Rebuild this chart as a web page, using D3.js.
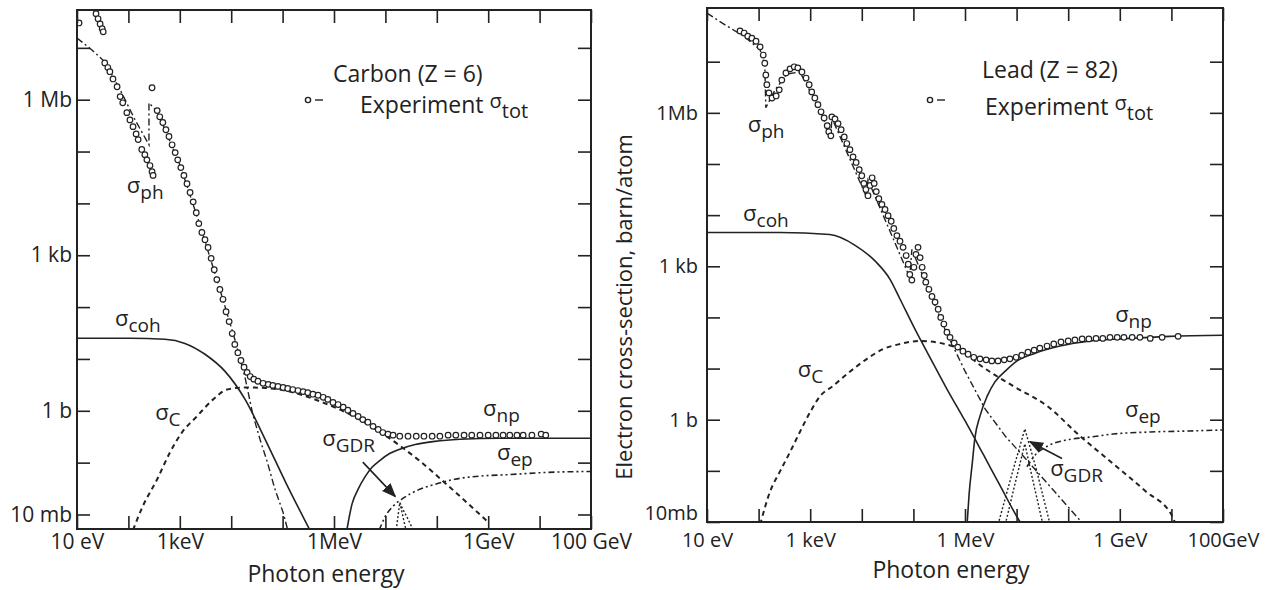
<!DOCTYPE html>
<html>
<head>
<meta charset="utf-8">
<script src="https://cdnjs.cloudflare.com/ajax/libs/d3/7.8.5/d3.min.js"></script>
<style>
  body { margin: 0; background: #fff; }
  svg text { font-family: "Open Sans", sans-serif; fill: #222; }
</style>
</head>
<body>
<svg id="chart" width="1280" height="590"></svg>
<script>
// all values are decade exponents: [log10(E / eV), log10(sigma / barn)]

// ---- Carbon (Z = 6) ----
const carbonTot = [
  [1.04,7.48],[1.37,7.66],[1.41,7.56],[1.45,7.46],[1.49,7.37],[1.51,7.31],
  [1.54,6.71],[1.60,6.62],[1.64,6.54],[1.70,6.40],[1.78,6.25],[1.84,6.06],[1.89,5.94],[1.97,5.75],[2.03,5.61],
  [2.09,5.48],[2.15,5.34],[2.19,5.23],[2.26,5.04],[2.32,4.94],[2.36,4.84],[2.42,4.73],[2.46,4.61],[2.48,4.54],
  [2.46,6.23],[2.56,5.79],[2.61,5.67],[2.67,5.56],[2.73,5.42],[2.79,5.29],[2.85,5.13],[2.91,4.98],[2.96,4.84],
  [3.02,4.69],[3.08,4.54],[3.14,4.38],[3.20,4.21],[3.26,4.03],[3.32,3.82],[3.37,3.61],[3.43,3.44],[3.49,3.30],
  [3.55,3.15],[3.61,2.94],[3.67,2.72],[3.72,2.53],[3.78,2.34],[3.84,2.15],[3.90,1.91],[3.96,1.72],[4.02,1.49],
  [4.07,1.28],[4.13,1.12],[4.19,0.97],[4.25,0.84],[4.31,0.74],[4.37,0.66],
  [4.44,0.61],[4.52,0.57],[4.62,0.53],[4.72,0.51],[4.81,0.49],[4.91,0.47],[5.01,0.45],[5.10,0.43],[5.20,0.41],
  [5.30,0.39],[5.40,0.37],[5.49,0.35],[5.59,0.32],[5.69,0.30],[5.79,0.26],[5.88,0.22],[5.98,0.16],[6.08,0.12],
  [6.18,0.07],[6.27,0.01],[6.37,-0.05],[6.47,-0.11],[6.56,-0.17],[6.66,-0.22],[6.76,-0.30],[6.86,-0.36],
  [6.95,-0.42],[7.05,-0.45],[7.15,-0.47],[7.28,-0.49],[7.44,-0.49],[7.60,-0.49],[7.75,-0.49],[7.91,-0.49],
  [8.06,-0.49],[8.22,-0.47],[8.37,-0.47],[8.53,-0.47],[8.68,-0.47],[8.84,-0.47],[9.00,-0.47],[9.15,-0.47],
  [9.29,-0.47],[9.42,-0.47],[9.56,-0.47],[9.68,-0.47],[9.85,-0.47],[10.03,-0.45],[10.12,-0.47]
];
const carbonCoh = [[1.00,1.40],[2.03,1.40],[2.71,1.38],[3.10,1.30],[3.49,1.09],[3.88,0.76],[4.27,0.22],[4.66,-0.55],[5.05,-1.36],[5.53,-2.30]];
const carbonCompton = [[2.09,-2.30],[2.28,-1.84],[2.56,-1.32],[2.81,-0.80],[3.04,-0.42],[3.33,-0.11],[3.65,0.22],[3.92,0.41],
  [4.27,0.45],[4.66,0.44],[5.14,0.37],[5.73,0.18],[6.31,-0.07],[6.99,-0.47],[7.67,-0.97],[8.26,-1.48],[8.98,-2.13]];
const carbonPhoto = [[1.00,7.19],[1.29,6.96],[1.54,6.73],[1.84,6.19],[2.13,5.61],[2.40,5.13],[2.40,5.94],[2.56,5.77],[3.00,4.75],
  [3.39,3.59],[3.78,2.34],[4.07,1.38],[4.27,0.64],[4.42,-0.07],[4.56,-0.55],[4.70,-0.98],[4.85,-1.51],[5.01,-1.96],[5.10,-2.30]];
const carbonPair = [[6.25,-2.30],[6.35,-1.80],[6.47,-1.51],[6.60,-1.28],[6.74,-1.09],[6.89,-0.96],[7.09,-0.82],[7.28,-0.74],
  [7.58,-0.65],[7.96,-0.59],[8.45,-0.55],[9.23,-0.53],[11.0,-0.53]];
const carbonPairElectron = [[6.88,-2.30],[6.99,-2.05],[7.15,-1.84],[7.34,-1.69],[7.63,-1.53],[7.96,-1.42],[8.35,-1.32],
  [8.84,-1.26],[9.42,-1.23],[10.1,-1.19],[11.0,-1.17]];
const carbonGdr = [[7.21,-2.30],[7.25,-2.00],[7.28,-1.77],[7.34,-1.90],[7.44,-2.09],[7.54,-2.30], null, [7.28,-1.77],[7.40,-2.30]];

// ---- Lead (Z = 82) ----
const leadTot = [
  [1.64,7.60],[1.72,7.56],[1.79,7.50],[1.87,7.46],[1.95,7.40],[2.03,7.29],[2.09,7.13],[2.12,6.97],
  [2.14,6.74],[2.16,6.55],[2.20,6.39],[2.26,6.29],[2.34,6.33],[2.40,6.45],[2.45,6.64],[2.53,6.78],[2.61,6.86],
  [2.69,6.90],[2.76,6.88],[2.84,6.80],[2.92,6.68],[2.98,6.55],[3.03,6.41],[3.09,6.29],[3.15,6.16],[3.21,6.02],
  [3.27,5.90],[3.33,5.75],[3.36,5.63],[3.40,5.55],
  [3.42,5.92],[3.48,5.88],[3.54,5.79],[3.60,5.67],[3.66,5.53],[3.71,5.40],[3.77,5.28],[3.83,5.14],[3.89,5.03],
  [3.95,4.89],[4.00,4.77],[4.04,4.62],[4.08,4.50],[4.12,4.38],[4.16,4.58],[4.20,4.73],[4.24,4.62],[4.28,4.46],
  [4.33,4.32],[4.39,4.21],[4.45,4.11],[4.51,3.99],[4.57,3.88],[4.62,3.74],[4.68,3.60],[4.74,3.49],[4.80,3.37],
  [4.86,3.21],[4.90,3.04],[4.93,2.84],[4.97,2.73],[5.01,2.98],[5.05,3.23],[5.09,3.37],[5.13,3.17],[5.17,2.98],
  [5.21,2.82],[5.24,2.69],
  [5.30,2.55],[5.36,2.41],[5.42,2.30],[5.48,2.16],[5.53,2.00],[5.59,1.87],[5.65,1.71],[5.71,1.61],[5.79,1.50],
  [5.86,1.42],[5.96,1.34],[6.06,1.28],[6.17,1.22],[6.29,1.19],[6.41,1.17],[6.52,1.15],[6.64,1.15],[6.76,1.17],
  [6.87,1.19],[6.99,1.22],[7.10,1.26],[7.22,1.32],[7.34,1.36],[7.45,1.40],[7.59,1.44],[7.72,1.48],[7.86,1.52],
  [8.00,1.54],[8.13,1.56],[8.27,1.58],[8.40,1.58],[8.54,1.59],[8.67,1.59],[8.81,1.61],[8.95,1.61],[9.08,1.61],
  [9.24,1.61],[9.39,1.61],[9.59,1.59],[9.82,1.61],[10.13,1.63]
];
const leadCoh = [[1.00,3.66],[2.41,3.66],[3.38,3.62],[3.87,3.41],[4.26,3.10],[4.55,2.74],[4.74,2.36],[5.03,1.77],[5.32,1.22],
  [5.65,0.60],[6.00,-0.02],[6.35,-0.67],[6.68,-1.29],[7.05,-1.97],[7.10,-2.05]];
const leadCompton = [[2.03,-2.05],[2.22,-1.41],[2.41,-1.02],[2.61,-0.63],[2.80,-0.24],[3.00,0.15],[3.19,0.46],[3.44,0.66],
  [3.71,0.89],[4.10,1.19],[4.41,1.38],[4.74,1.48],[5.13,1.54],[5.61,1.48],[5.90,1.38],[6.29,1.07],[6.93,0.66],[7.59,0.27],
  [8.23,-0.32],[8.87,-0.86],[9.49,-1.39],[10.03,-1.91],[10.08,-2.05]];
const leadPhoto = [[1.00,7.95],[1.35,7.72],[1.74,7.48],[2.03,7.23],[2.12,6.94],[2.14,6.10],[2.32,6.45],[2.55,6.76],[2.80,6.80],
  [3.09,6.25],[3.40,5.55],[3.42,5.90],[4.08,4.38],[4.12,4.69],[4.93,2.78],[4.97,3.33],[5.61,1.77],[6.00,0.95],[6.39,0.21],
  [6.78,-0.32],[7.26,-0.86],[7.74,-1.41],[8.23,-1.97],[8.27,-2.05]];
const leadPair = [[6.04,-2.05],[6.08,-1.45],[6.14,-0.86],[6.19,-0.37],[6.29,0.07],[6.43,0.46],[6.58,0.74],[6.78,0.95],
  [7.01,1.15],[7.36,1.30],[7.84,1.44],[8.42,1.54],[9.20,1.59],[9.97,1.63],[11.0,1.65]];
const leadPairElectron = [[7.20,-0.92],[7.36,-0.69],[7.61,-0.51],[8.00,-0.39],[8.42,-0.34],[8.87,-0.28],[9.59,-0.24],
  [10.36,-0.22],[11.0,-0.20]];
const leadGdr = [[6.64,-2.05],[6.91,-1.06],[7.16,-0.18],[7.38,-0.96],[7.65,-2.05], null,
  [6.78,-2.05],[6.97,-1.25],[7.16,-0.47],[7.30,-1.12],[7.51,-2.05]];

// ---- ticks ----
const energyTickExps = [1, 2, 3, 4, 5, 6, 7, 8, 9, 10, 11];
const carbonEnergyLabels = ["10 eV", "", "1keV", "", "", "1MeV", "", "", "1GeV", "", "100 GeV"];
const leadEnergyLabels = ["10 eV", "", "1 keV", "", "", "1 MeV", "", "", "1 GeV", "", "100GeV"];
const sigmaTickExps = [-2, -1, 0, 1, 2, 3, 4, 5, 6, 7];
const carbonSigmaLabels = ["10 mb", "", "1 b", "", "", "1 kb", "", "", "1 Mb", ""];
const leadSigmaLabels = ["10mb", "", "1 b", "", "", "1 kb", "", "", "1Mb", ""];

const lineStyles = {
  coh:   { dash: null,            width: 1.6 },
  comp:  { dash: "5,4",           width: 2 },
  photo: { dash: "7,3,2,3",       width: 1.4 },
  pair:  { dash: null,            width: 1.6 },
  ep:    { dash: "6,3,2,3,2,3",   width: 1.6 },
  gdr:   { dash: "2,2",           width: 1.4 }
};

const svg = d3.select("#chart");
const P = v => Math.pow(10, v);

svg.append("defs").append("marker")
  .attr("id", "arrow").attr("viewBox", "0 0 10 10").attr("refX", 9).attr("refY", 5)
  .attr("markerWidth", 9).attr("markerHeight", 9).attr("orient", "auto-start-reverse")
  .append("path").attr("d", "M0,1 L10,5 L0,9 z").attr("fill", "#222");

function sigmaLabel(g, px, py, sub, size) {
  const t = g.append("text").attr("x", px).attr("y", py).style("font-size", size + "px").text("σ");
  t.append("tspan").attr("dy", 6).style("font-size", (size - 3) + "px").text(sub);
}

function drawPanel(p) {
  const x = d3.scaleLog().domain(p.xDom.map(P)).range([p.left, p.right]);
  const y = d3.scaleLog().domain(p.yDom.map(P)).range([p.bottom, p.top]);
  const g = svg.append("g");

  svg.select("defs").append("clipPath").attr("id", "clip-" + p.id).append("rect")
    .attr("x", p.left).attr("y", p.top).attr("width", p.right - p.left).attr("height", p.bottom - p.top);
  const plot = g.append("g").attr("clip-path", "url(#clip-" + p.id + ")");

  p.series.forEach(s => {
    const st = lineStyles[s.type];
    const line = d3.line().defined(d => d)
      .x(d => x(P(d[0]))).y(d => y(P(d[1])))
      .curve(s.smooth ? d3.curveMonotoneX : d3.curveLinear);
    plot.append("path").attr("d", line(s.data))
      .attr("fill", "none").attr("stroke", "#222")
      .attr("stroke-width", st.width)
      .attr("stroke-dasharray", st.dash);
  });

  plot.selectAll("circle.exp").data(p.tot).enter().append("circle")
    .attr("class", "exp")
    .attr("cx", d => x(P(d[0]))).attr("cy", d => y(P(d[1])))
    .attr("r", 2.8).attr("fill", "#fff").attr("stroke", "#222").attr("stroke-width", 1.2);

  // axes: ticks point inward, labels only left and bottom
  const xLab = {}; energyTickExps.forEach((e, i) => xLab[e] = p.xLabels[i]);
  const yLab = {}; sigmaTickExps.forEach((e, i) => yLab[e] = p.yLabels[i]);
  const xVals = energyTickExps.map(P);
  const yVals = sigmaTickExps.filter(e => e >= p.yDom[0] && e <= p.yDom[1]).map(P);
  const fx = v => xLab[Math.round(Math.log10(v))] || "";
  const fy = v => yLab[Math.round(Math.log10(v))] || "";

  const xAxis = g.append("g").attr("transform", "translate(0," + p.bottom + ")")
    .call(d3.axisBottom(x).tickValues(xVals).tickSize(-13).tickPadding(p.xPad).tickFormat(fx));
  const yAxis = g.append("g").attr("transform", "translate(" + p.left + ",0)")
    .call(d3.axisLeft(y).tickValues(yVals).tickSize(-13).tickPadding(p.yPad).tickFormat(fy));
  const axes = [
    xAxis, yAxis,
    g.append("g").attr("transform", "translate(0," + p.top + ")")
      .call(d3.axisTop(x).tickValues(xVals).tickSize(-13).tickFormat("")),
    g.append("g").attr("transform", "translate(" + p.right + ",0)")
      .call(d3.axisRight(y).tickValues(yVals).tickSize(-13).tickFormat(""))
  ];
  axes.forEach(a => {
    a.select(".domain").remove();
    a.selectAll("line").attr("stroke", "#222").attr("stroke-width", 1.6);
    a.selectAll("text").attr("font-family", null).attr("font-size", null)
      .style("font-size", p.tickFont + "px").attr("fill", "#222");
  });
  // lift the lowest sigma label when it sits on the corner
  if (p.lowLabelDy) {
    yAxis.selectAll(".tick text").filter(d => Math.round(Math.log10(d)) === -2).attr("dy", p.lowLabelDy);
  }

  g.append("rect").attr("x", p.left).attr("y", p.top)
    .attr("width", p.right - p.left).attr("height", p.bottom - p.top)
    .attr("fill", "none").attr("stroke", "#222").attr("stroke-width", 2);

  // curve labels
  p.labels.forEach(l => sigmaLabel(g, x(P(l.at[0])), y(P(l.at[1])), l.sub, 22));

  // GDR arrow
  g.append("line")
    .attr("x1", x(P(p.arrow[0][0]))).attr("y1", y(P(p.arrow[0][1])))
    .attr("x2", x(P(p.arrow[1][0]))).attr("y2", y(P(p.arrow[1][1])))
    .attr("stroke", "#222").attr("stroke-width", 1.6).attr("marker-end", "url(#arrow)");

  // legend
  const lg = p.legend;
  g.append("circle").attr("cx", lg.x).attr("cy", lg.y).attr("r", 2.6)
    .attr("fill", "#fff").attr("stroke", "#222").attr("stroke-width", 1.4);
  g.append("line").attr("x1", lg.x + 7).attr("x2", lg.x + 15).attr("y1", lg.y).attr("y2", lg.y)
    .attr("stroke", "#222").attr("stroke-width", 1.4);
  g.append("text").attr("x", lg.titleX).attr("y", lg.titleY).style("font-size", "23px").text(p.title);
  const et = g.append("text").attr("x", lg.expX).attr("y", lg.expY).style("font-size", "23px").text("Experiment ");
  et.append("tspan").attr("dy", -5).style("font-size", "20px").text("σ");
  et.append("tspan").attr("dy", 10).style("font-size", "20px").text("tot");

  g.append("text").attr("x", (p.left + p.right) / 2 + p.xTitleShift).attr("y", p.xTitleY)
    .attr("text-anchor", "middle").style("font-size", "23px").text("Photon energy");
  if (p.yTitle) {
    g.append("text").attr("transform", "translate(" + p.yTitle.x + "," + p.yTitle.y + ") rotate(-90)")
      .attr("text-anchor", "middle").style("font-size", "22px").text(p.yTitle.text);
  }
}

drawPanel({
  id: "carbon", title: "Carbon (Z = 6)",
  left: 77, right: 591, top: 10, bottom: 529,
  xDom: [1, 11], yDom: [-2.28, 7.73], xPad: 5, yPad: 5, tickFont: 21,
  xLabels: carbonEnergyLabels, yLabels: carbonSigmaLabels,
  tot: carbonTot,
  series: [
    { type: "coh", data: carbonCoh, smooth: true },
    { type: "comp", data: carbonCompton, smooth: true },
    { type: "photo", data: carbonPhoto },
    { type: "pair", data: carbonPair, smooth: true },
    { type: "ep", data: carbonPairElectron, smooth: true },
    { type: "gdr", data: carbonGdr }
  ],
  labels: [
    { sub: "ph", at: [1.97, 4.21] }, { sub: "coh", at: [1.74, 1.63] }, { sub: "C", at: [2.52, -0.17] },
    { sub: "np", at: [8.90, -0.11] }, { sub: "ep", at: [9.17, -0.94] }, { sub: "GDR", at: [5.77, -0.67] }
  ],
  arrow: [[6.56, -0.99], [7.19, -1.65]],
  legend: { x: 308, y: 100, titleX: 333, titleY: 82, expX: 360, expY: 113 },
  xTitleY: 582, xTitleShift: -8
});

drawPanel({
  id: "lead", title: "Lead (Z = 82)",
  left: 707, right: 1223, top: 8, bottom: 522,
  xDom: [1, 11], yDom: [-2, 8.05], xPad: 11, yPad: 9, tickFont: 20, lowLabelDy: "-0.12em",
  xLabels: leadEnergyLabels, yLabels: leadSigmaLabels,
  tot: leadTot,
  series: [
    { type: "coh", data: leadCoh, smooth: true },
    { type: "comp", data: leadCompton, smooth: true },
    { type: "photo", data: leadPhoto },
    { type: "pair", data: leadPair, smooth: true },
    { type: "ep", data: leadPairElectron, smooth: true },
    { type: "gdr", data: leadGdr }
  ],
  labels: [
    { sub: "ph", at: [1.79, 5.63] }, { sub: "coh", at: [1.70, 3.88] }, { sub: "C", at: [2.76, 0.83] },
    { sub: "np", at: [8.91, 1.91] }, { sub: "ep", at: [9.10, 0.05] }, { sub: "GDR", at: [7.65, -1.11] }
  ],
  arrow: [[7.88, -0.76], [7.26, -0.43]],
  legend: { x: 930, y: 100, titleX: 982, titleY: 78, expX: 985, expY: 115 },
  xTitleY: 578, xTitleShift: -14,
  yTitle: { x: 632, y: 307, text: "Electron cross-section, barn/atom" }
});
</script>
</body>
</html>
